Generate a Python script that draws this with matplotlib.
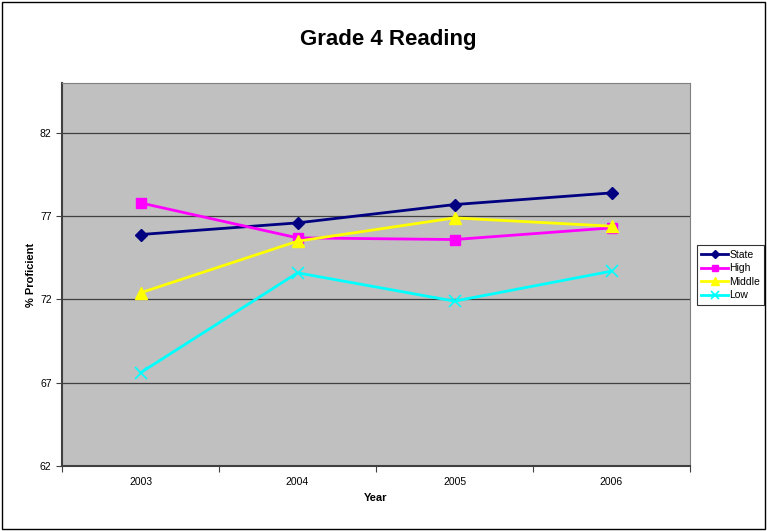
import matplotlib
matplotlib.use("Agg")
import matplotlib.pyplot as plt
from matplotlib.patches import Rectangle

plt.rcParams['font.family'] = ['Liberation Sans', 'DejaVu Sans']

years = ["2003", "2004", "2005", "2006"]
state = [75.9, 76.6, 77.7, 78.4]
high = [77.8, 75.7, 75.6, 76.3]
middle = [72.4, 75.5, 76.9, 76.4]
low = [67.6, 73.6, 71.9, 73.7]
yticks = [62, 67, 72, 77, 82]

fig = plt.figure(figsize=(7.67, 5.31), dpi=100)
fig.patch.set_facecolor('white')
fig.patches.append(Rectangle((0.003, 0.003), 0.994, 0.994, transform=fig.transFigure,
                             fill=False, edgecolor='black', linewidth=1.0))

ax = fig.add_axes([62/767, 1-466/531, (690-62)/767, (466-83)/531])
ax.set_facecolor('#c0c0c0')
x = list(range(len(years)))

ax.plot(x, state, color='#000080', marker='D', markersize=6, linewidth=2, label='State')
ax.plot(x, high, color='#ff00ff', marker='s', markersize=7, linewidth=2, label='High')
ax.plot(x, middle, color='#ffff00', marker='^', markersize=8, linewidth=2, label='Middle')
ax.plot(x, low, color='#00ffff', marker='x', markersize=8, markeredgewidth=1.2, linewidth=2, label='Low')

ax.set_xlim(-0.5, 3.5)
ax.set_ylim(62, 85)
ax.set_yticks(yticks)
ax.set_yticklabels([str(v) for v in yticks], fontsize=7.5)
ax.set_xticks([-0.5, 0.5, 1.5, 2.5, 3.5])
ax.set_xticklabels([])
ax.set_xticks(x, minor=True)
ax.set_xticklabels(years, minor=True, fontsize=7.5)
ax.tick_params(axis='x', which='minor', length=0, pad=8)
ax.tick_params(axis='x', which='major', length=4, direction='out', color='#404040')
ax.tick_params(axis='y', length=4, direction='out', color='#404040')
ax.grid(axis='y', color='#404040', linewidth=0.9)
ax.set_axisbelow(True)
for side in ['top', 'right']:
    ax.spines[side].set_color('#808080')
    ax.spines[side].set_linewidth(0.8)
for side in ['left', 'bottom']:
    ax.spines[side].set_color('#404040')
    ax.spines[side].set_linewidth(1.5)

ax.set_xlabel('Year', fontsize=8, fontweight='bold', labelpad=4)
ax.set_ylabel('% Proficient', fontsize=8, fontweight='bold', labelpad=3)

fig.text(388/767, 1-40/531, 'Grade 4 Reading', ha='center', va='center',
         fontsize=16, fontweight='bold')

leg = ax.legend(loc='center left', bbox_to_anchor=(697/767, 1-275/531),
                bbox_transform=fig.transFigure, fontsize=7.5, frameon=True,
                fancybox=False, edgecolor='black', borderpad=0.4, markerscale=0.65,
                handlelength=2.6, labelspacing=0.35, handletextpad=0.1, borderaxespad=0)
leg.get_frame().set_linewidth(0.8)

fig.savefig('out.png', dpi=100, facecolor='white')
